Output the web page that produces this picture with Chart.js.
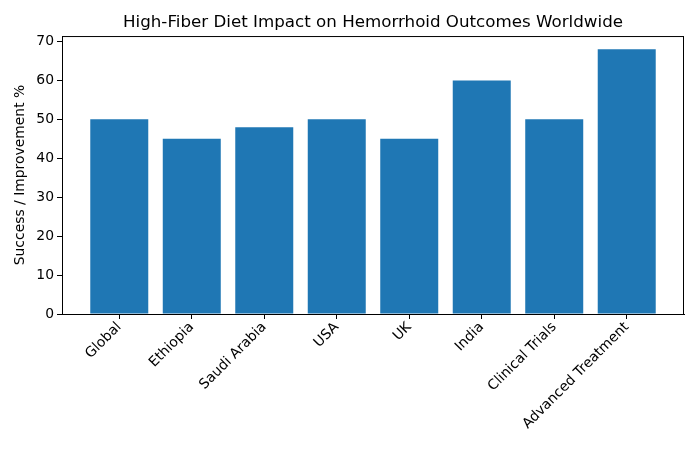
<!DOCTYPE html>
<html>
<head>
<meta charset="utf-8">
<script src="https://cdn.jsdelivr.net/npm/chart.js@4/dist/chart.umd.min.js"></script>
<style>
  html, body { margin: 0; padding: 0; background: #fff; }
  #wrap { width: 700px; height: 450px; position: relative; }
</style>
</head>
<body>
<div id="wrap"><canvas id="chart"></canvas></div>
<script>
// ── Data ──
const regions = ['Global', 'Ethiopia', 'Saudi Arabia', 'USA', 'UK', 'India', 'Clinical Trials', 'Advanced Treatment'];
const successPct = [50, 45, 48, 50, 45, 60, 50, 68];
const yTicks = [0, 10, 20, 30, 40, 50, 60, 70];

const FONT = "'DejaVu Sans', sans-serif";

// black frame round the plot, like matplotlib spines
const frame = {
  id: 'frame',
  afterDraw(chart) {
    const { ctx, chartArea: a } = chart;
    ctx.save();
    ctx.strokeStyle = '#000';
    ctx.lineWidth = 1;
    ctx.strokeRect(a.left + 0.5, a.top + 0.5, a.right - a.left - 1, a.bottom - a.top);
    ctx.restore();
  }
};

new Chart(document.getElementById('chart'), {
  type: 'bar',
  data: {
    datasets: [{
      data: successPct.map((v, i) => ({ x: i, y: v })),
      backgroundColor: '#1f77b4',
      borderColor: '#1f77b4',
      borderWidth: 0,
      inflateAmount: 0,
      categoryPercentage: 1,
      barPercentage: 0.8
    }]
  },
  options: {
    responsive: true,
    maintainAspectRatio: false,
    animation: false,
    layout: { padding: { left: 0, right: 16, top: 0, bottom: 0 } },
    plugins: {
      legend: { display: false },
      tooltip: { enabled: false },
      title: {
        display: true,
        fullSize: false,
        text: 'High-Fiber Diet Impact on Hemorrhoid Outcomes Worldwide',
        color: '#000',
        font: { family: FONT, size: 16.7, weight: 'normal', lineHeight: 1.2 },
        padding: { top: 13, bottom: 3 }
      }
    },
    scales: {
      x: {
        type: 'linear',
        offset: false,
        min: -0.79,
        max: 7.79,
        grid: { display: true, offset: false, drawOnChartArea: false, drawTicks: true, tickLength: 5, color: '#000' },
        border: { display: true, color: '#000' },
        afterBuildTicks(scale) { scale.ticks = regions.map((_, i) => ({ value: i })); },
        afterFit(scale) { scale.height = 136; },
        ticks: {
          autoSkip: false,
          minRotation: 45,
          maxRotation: 45,
          color: '#000',
          padding: 0,
          font: { family: FONT, size: 13.9 },
          callback: v => regions[v]
        }
      },
      y: {
        min: 0,
        max: 71.4,
        grid: { display: true, drawOnChartArea: false, drawTicks: true, tickLength: 5, color: '#000' },
        border: { display: true, color: '#000' },
        afterBuildTicks(scale) { scale.ticks = yTicks.map(v => ({ value: v })); },
        afterFit(scale) { scale.width = 62; },
        title: {
          display: true,
          text: 'Success / Improvement %',
          color: '#000',
          font: { family: FONT, size: 13.9, lineHeight: 1.2 },
          padding: { top: 12, bottom: 0 }
        },
        ticks: {
          color: '#000',
          padding: 3,
          font: { family: FONT, size: 13.9 }
        }
      }
    }
  },
  plugins: [frame]
});
</script>
</body>
</html>
